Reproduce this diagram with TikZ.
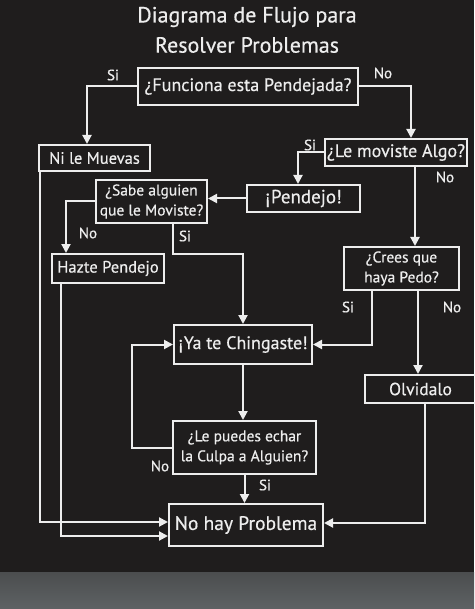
\documentclass[tikz,border=0pt]{standalone}
\usepackage{fontspec}
\setmainfont[FakeBold=0.5]{PT Sans}
\usetikzlibrary{arrows.meta}
\definecolor{bg}{HTML}{1F1D1D}
\definecolor{fg}{HTML}{EDEDED}
\definecolor{floor}{HTML}{5E6264}
\begin{document}
\begin{tikzpicture}[x=1pt,y=-1pt,
  box/.style={draw=fg,line width=2pt,text=fg,inner sep=0pt,align=center,font=\fontsize{17.5}{20}\selectfont},
  box2/.style={box,font=\fontsize{15.5}{20}\selectfont},
  lbl/.style={text=fg,inner sep=0pt,font=\fontsize{15}{16}\selectfont},
  arr/.style={draw=fg,line width=2pt,-{Triangle[width=9pt,length=9pt]}},
  ln/.style={draw=fg,line width=2pt}]
\useasboundingbox (0,0) rectangle (474,609);
\fill[bg] (0,0) rectangle (474,572);
\shade[top color=floor!70!bg,bottom color=floor] (0,572) rectangle (474,609);
% title
\node[text=fg,font=\fontsize{22}{24}\selectfont] (t1) at (247,17) {Diagrama de Flujo para};
\node[text=fg,font=\fontsize{22}{24}\selectfont] (t2) at (247,45) {Resolver Problemas};
% boxes
\node[box,minimum width=220,minimum height=37,font=\fontsize{18}{20}\selectfont] (q1) at (248,86.5) {¿Funciona esta Pendejada?};
\node[box,minimum width=111,minimum height=26,font=\fontsize{16.5}{20}\selectfont] (nimu) at (94.5,158) {Ni le Muevas};
\node[box,minimum width=142,minimum height=27,font=\fontsize{18}{20}\selectfont] (mov) at (396,152.5) {¿Le moviste Algo?};
\node[box,minimum width=113,minimum height=27,font=\fontsize{19}{20}\selectfont] (pend) at (303.5,198.5) {¡Pendejo!};
\node[box2,minimum width=111,minimum height=43] (sabe) at (151.5,201.5) {¿Sabe alguien\\que le Moviste?};
\node[box,minimum width=112,minimum height=29,font=\fontsize{16.5}{20}\selectfont] (hazte) at (108,268.5) {Hazte Pendejo};
\node[box,minimum width=138,minimum height=39,font=\fontsize{18}{20}\selectfont] (ya) at (243,344.5) {¡Ya te Chingaste!};
\node[box2,minimum width=115,minimum height=43] (crees) at (401.5,268.5) {¿Crees que\\haya Pedo?};
\node[box,minimum width=111,minimum height=28] (olv) at (420.5,389) {Olvidalo};
\node[box2,minimum width=143,minimum height=53] (culpa) at (244.5,447.5) {¿Le puedes echar\\la Culpa a Alguien?};
\node[box,minimum width=154,minimum height=42,font=\fontsize{19.5}{22}\selectfont] (nohay) at (246,525) {No hay Problema};
% labels
\node[lbl] (l1) at (113,75) {Si};
\node[lbl] (l2) at (383,73) {No};
\node[lbl] (l3) at (310,145) {Si};
\node[lbl] (l4) at (445,177) {No};
\node[lbl] (l5) at (88,233) {No};
\node[lbl] (l6) at (185,236) {Si};
\node[lbl] (l7) at (348,307) {Si};
\node[lbl] (l8) at (452,307) {No};
\node[lbl] (l9) at (160,466) {No};
\node[lbl] (l10) at (265,485) {Si};
% connectors
\draw[arr] (q1.west) -| ([xshift=-7.5]nimu.north);
\draw[arr] (q1.east) -| ([xshift=15]mov.north);
\draw[arr] (mov.west) -| ([xshift=-5.5]pend.north);
\draw[arr] (pend.west) -- (sabe.east |- pend.west);
\draw[arr] (sabe.west) -| ([xshift=-42]hazte.north);
\draw[arr] ([xshift=21.5]sabe.south) -- ++(0,30) -| (ya.north);
\draw[arr] ([xshift=19]mov.south) -- ([xshift=19]mov.south |- crees.north);
\draw[arr] ([xshift=-29.5]crees.south) |- (ya.east);
\draw[arr] ([xshift=16.5]crees.south) -- ([xshift=16.5]crees.south |- olv.north);
\draw[arr] (ya.south) -- (ya.south |- culpa.north);
\draw[arr] (culpa.west) -- ++(-40,0) |- (ya.west);
\draw[arr] (culpa.south) -- (culpa.south |- nohay.north);
\draw[arr] ([xshift=-54.5]nimu.south) |- ([yshift=3]nohay.west);
\draw[arr] ([xshift=-47]hazte.south) |- ([yshift=-11]nohay.west);
\draw[arr] ([xshift=4.5]olv.south) |- ([yshift=2]nohay.east);
\end{tikzpicture}
\end{document}
